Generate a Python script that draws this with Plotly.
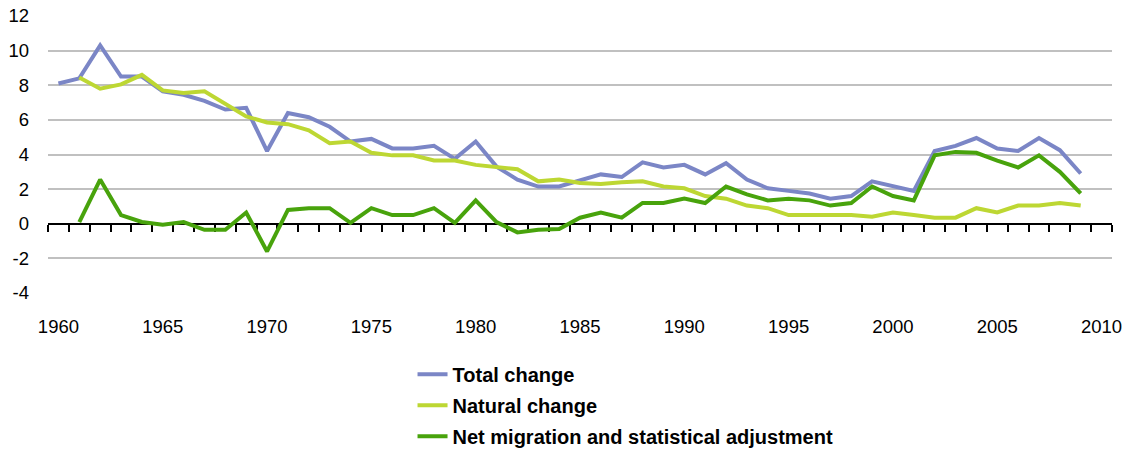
import plotly.graph_objects as go

years = list(range(1960, 2010))

total_change = [8.1, 8.4, 10.3, 8.5, 8.5, 7.65, 7.45, 7.1, 6.6, 6.7,
                4.2, 6.4, 6.15, 5.6, 4.75, 4.9, 4.35, 4.35, 4.5, 3.75,
                4.75, 3.3, 2.55, 2.15, 2.15, 2.5, 2.85, 2.7, 3.55, 3.25,
                3.4, 2.85, 3.5, 2.55, 2.05, 1.9, 1.75, 1.45, 1.6, 2.45,
                2.15, 1.9, 4.2, 4.5, 4.95, 4.35, 4.2, 4.95, 4.25, 2.9]

natural_change = [None, 8.45, 7.8, 8.05, 8.6, 7.7, 7.55, 7.65, 6.9, 6.2,
                  5.85, 5.75, 5.4, 4.65, 4.75, 4.1, 3.95, 3.95, 3.65, 3.65,
                  3.4, 3.25, 3.15, 2.45, 2.55, 2.35, 2.3, 2.4, 2.45, 2.15,
                  2.05, 1.6, 1.45, 1.05, 0.9, 0.5, 0.5, 0.5, 0.5, 0.4,
                  0.65, 0.5, 0.35, 0.35, 0.9, 0.65, 1.05, 1.05, 1.2, 1.05]

net_migration = [None, 0.1, 2.55, 0.5, 0.1, -0.05, 0.1, -0.35, -0.35, 0.65,
                 -1.6, 0.8, 0.9, 0.9, 0.05, 0.9, 0.5, 0.5, 0.9, 0.05,
                 1.35, 0.1, -0.5, -0.35, -0.3, 0.35, 0.65, 0.35, 1.2, 1.2,
                 1.45, 1.2, 2.15, 1.7, 1.35, 1.45, 1.35, 1.05, 1.2, 2.15,
                 1.6, 1.35, 3.95, 4.15, 4.1, 3.65, 3.25, 3.95, 3.0, 1.75]

series_names = ["Total change", "Natural change", "Net migration and statistical adjustment"]
series_colors = ["#7B86C6", "#BDD733", "#48A30C"]

x_label_years = list(range(1960, 2011, 5))
category_edges = [y - 0.5 for y in range(1960, 2012)]
y_ticks = list(range(-4, 13, 2))
y_tick_labels = [str(v) for v in y_ticks]

font_family = "Liberation Sans, Arial, sans-serif"

fig = go.Figure()
for name, vals, col in zip(series_names, [total_change, natural_change, net_migration], series_colors):
    fig.add_trace(go.Scatter(
        x=years, y=vals, mode="lines", name=name, legendgroup=name,
        line=dict(color=col, width=4), connectgaps=False,
    ))

# helper trace so the category-tick axis at y=0 is rendered
fig.add_trace(go.Scatter(x=[years[0]], y=[None], xaxis="x2", mode="lines",
                         showlegend=False, hoverinfo="skip"))

fig.update_layout(
    width=1129, height=450,
    margin=dict(l=48, r=17, t=16, b=157, autoexpand=False),
    paper_bgcolor="white", plot_bgcolor="white",
    font=dict(family=font_family, size=18, color="#000000"),
    xaxis=dict(
        range=[1959.5, 2010.5], tickmode="array", tickvals=x_label_years,
        showgrid=False, zeroline=False, showline=False, ticks="",
        ticklabelstandoff=20, tickfont=dict(size=18.5), automargin=False,
    ),
    xaxis2=dict(
        overlaying="x", matches="x", anchor="free", position=0.25,
        tickmode="array", tickvals=category_edges, showticklabels=False,
        showgrid=False, zeroline=False, showline=True, linecolor="#000000",
        linewidth=2, ticks="outside", ticklen=7, tickwidth=2, tickcolor="#000000",
        layer="below traces", automargin=False,
    ),
    yaxis=dict(
        range=[-4, 12], tickmode="array", tickvals=y_ticks, ticktext=y_tick_labels,
        showgrid=True, gridcolor="#C0C0C0", gridwidth=2,
        zeroline=False, showline=False, ticks="",
        ticklabelstandoff=18, tickfont=dict(size=18.5), automargin=False,
    ),
    showlegend=True,
    legend=dict(
        orientation="v", x=0.3426, xanchor="left", y=-0.223, yanchor="top",
        font=dict(family=font_family, size=20, color="#000000", weight="bold"),
        tracegroupgap=2, bgcolor="rgba(0,0,0,0)",
    ),
)

fig.write_html("out.html", config={"displayModeBar": False},
               post_script="document.body.style.margin='0';document.body.style.overflow='hidden';")
